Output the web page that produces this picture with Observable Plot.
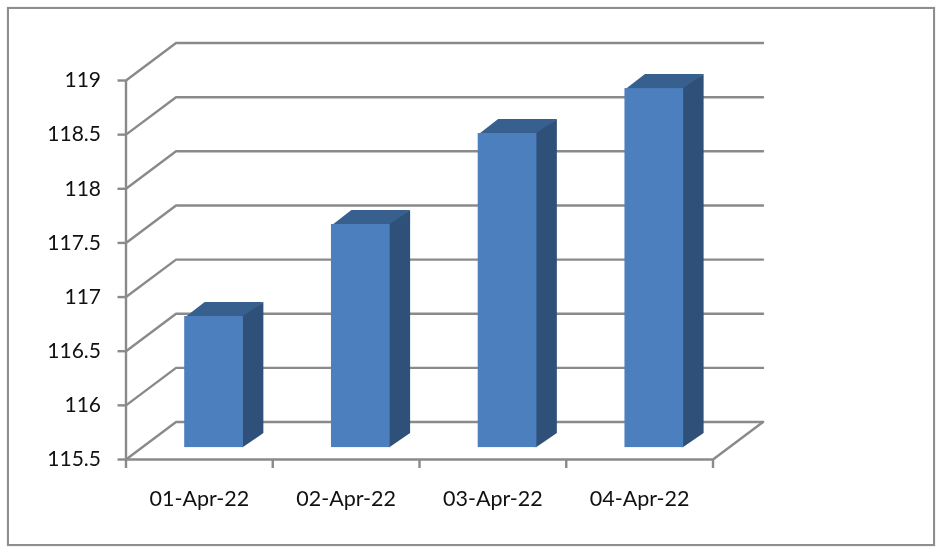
<!DOCTYPE html>
<html>
<head>
<meta charset="utf-8">
<script src="https://cdn.jsdelivr.net/npm/d3@7"></script>
<script src="https://cdn.jsdelivr.net/npm/@observablehq/plot@0.6"></script>
<style>
html,body{margin:0;padding:0;background:#fff;}
#wrap{position:relative;width:942px;height:554px;overflow:hidden;}
#frame{position:absolute;left:7px;top:7px;width:924px;height:535px;border:2px solid #8e8e8e;box-shadow:0 0 1px #bbb;pointer-events:none;}
#wrap svg{position:absolute;left:0;top:0;overflow:visible;filter:blur(.35px);}
</style>
</head>
<body>
<div id="wrap"><div id="frame"></div><div id="chart"></div></div>
<script>
const categories = ["01-Apr-22", "02-Apr-22", "03-Apr-22", "04-Apr-22"];
const values = [116.71, 117.56, 118.40, 118.815];
const yTicks = [115.5, 116, 116.5, 117, 117.5, 118, 118.5, 119];
const yLabels = ["115.5", "116", "116.5", "117", "117.5", "118", "118.5", "119"];
const yMin = 115.5, yMax = 119;

// oblique projection depth, in data units
const wallDX = 0.341, wallDY = 0.346;   // depth of the box
const barFloorDY = 0.11;                // bar plane relative to front plane
const barCenter = 0.6, barHalf = 0.2;   // inside each category band
const barDX = 0.136, barDY = 0.134;     // depth of a bar
const seam = 0.008;                     // faces overlap slightly behind the front

const nCat = categories.length;

const grid = yTicks.flatMap(v => [
  {k: v, x: 0, y: v},
  {k: v, x: wallDX, y: v + wallDY},
  {k: v, x: nCat + wallDX, y: v + wallDY}
]);
const floorEdge = [
  {x: nCat, y: yMin},
  {x: nCat + wallDX, y: yMin + wallDY}
];

const fronts = [], sides = [], tops = [];
values.forEach((v, i) => {
  const l = i + barCenter - barHalf, r = i + barCenter + barHalf;
  const b = yMin + barFloorDY, t = v + barFloorDY;
  fronts.push({x1: l, x2: r, y1: b, y2: t, c: categories[i]});
  [[r - seam, b], [r + barDX, b + barDY], [r + barDX, t + barDY], [r - seam, t]]
    .forEach(([x, y]) => sides.push({k: i, x, y}));
  [[l, t - seam], [l + barDX, t + barDY], [r + barDX, t + barDY], [r, t - seam]]
    .forEach(([x, y]) => tops.push({k: i, x, y}));
});

const stroke = "#8a8a8a";
const chart = Plot.plot({
  width: 942,
  height: 554,
  marginLeft: 125.5,
  marginRight: 229.5,
  marginTop: 80,
  marginBottom: 95,
  style: {background: "transparent", fontFamily: "Lato, 'Noto Sans', sans-serif"},
  x: {domain: [0, nCat], label: null},
  y: {domain: [yMin, yMax], label: null},
  marks: [
    Plot.line(grid, {x: "x", y: "y", z: "k", stroke, strokeWidth: 2.4, strokeLinejoin: "miter", clip: false}),
    Plot.line(floorEdge, {x: "x", y: "y", stroke, strokeWidth: 2.4}),
    Plot.ruleX([0], {stroke, strokeWidth: 2.4}),
    Plot.ruleY([yMin], {stroke, strokeWidth: 2.4}),
    Plot.line(tops, {x: "x", y: "y", z: "k", fill: "#38608f", stroke: "none", curve: "linear-closed"}),
    Plot.line(sides, {x: "x", y: "y", z: "k", fill: "#2f5079", stroke: "none", curve: "linear-closed"}),
    Plot.rect(fronts, {x1: "x1", x2: "x2", y1: "y1", y2: "y2", fill: "#4c7fbd", inset: 0}),
    Plot.axisY({
      ticks: yTicks, tickSize: 8, tickPadding: 17, stroke, strokeWidth: 2.4,
      tickFormat: v => yLabels[yTicks.indexOf(v)],
      fontSize: 21, fill: "#111", label: null
    }),
    Plot.axisX({
      ticks: d3.range(0, nCat + 1), tickSize: 9, stroke, strokeWidth: 2.4,
      text: null, label: null
    }),
    Plot.axisX({
      ticks: categories.map((c, i) => i + 0.5), tickSize: 0, tickPadding: 31,
      tickFormat: v => categories[Math.floor(v)],
      fontSize: 21.5, fill: "#111", label: null
    })
  ]
});
document.getElementById("chart").appendChild(chart);
</script>
</body>
</html>
